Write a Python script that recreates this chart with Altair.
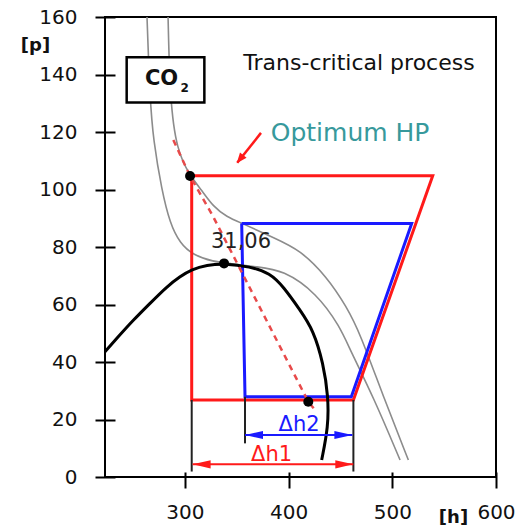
import altair as alt
import pandas as pd

# ---------------- data ----------------
dome_h = [223.0, 234.3, 250.3, 266.4, 282.5, 295.3, 306.6, 321.1, 337.8, 362.8, 382.1, 395.0, 411.0, 423.9, 433.5, 438.3, 438.3, 431.9]
dome_p = [43.6, 48.2, 54.6, 60.4, 66.2, 69.7, 72.2, 73.7, 74.3, 73.2, 70.9, 66.2, 58.1, 51.1, 39.5, 27.9, 17.5, 5.9]

iso1_h = [263.5, 266.4, 269.6, 277.7, 285.7, 295.3, 308.1, 327.4, 343.5, 369.3, 394.9, 427.1, 449.6, 459.3, 481.7, 507.5]
iso1_p = [160.0, 131.1, 117.2, 99.8, 88.2, 81.3, 77.2, 74.9, 74.3, 73.1, 72.0, 63.9, 52.3, 44.2, 27.9, 5.9]

iso2_h = [283.8, 285.7, 292.1, 305.0, 316.2, 327.4, 340.4, 354.8, 386.9, 411.0, 436.8, 456.0, 468.9, 491.4, 515.5]
iso2_p = [160.0, 131.1, 113.7, 104.7, 99.8, 94.0, 90.5, 88.3, 83.0, 79.0, 69.7, 59.2, 50.0, 27.9, 5.9]

opt_h = [288.9, 305.0, 327.4, 419.0, 425.5]
opt_p = [117.2, 104.7, 90.5, 26.2, 23.3]

red_h = [306.6, 539.0, 462.5, 306.6, 306.6]
red_p = [104.8, 104.8, 26.8, 26.8, 104.8]

blue_h = [354.8, 518.7, 460.5, 358.0, 354.8]
blue_p = [88.2, 88.2, 27.9, 27.9, 88.2]

dot_h = [305.0, 337.8, 419.0]
dot_p = [104.7, 74.3, 26.2]

# delta-h guide lines
vline_h = [306.6, 358.0, 462.5]
vline_p = [26.8, 27.9, 26.8]
vline_p2 = [1.9, 11.7, 1.9]

dh2_h, dh2_h2, dh2_p = 358.0, 461.5, 14.6
dh1_h, dh1_h2, dh1_p = 307.5, 462.4, 4.4

x_ticks = [300, 400, 500, 600]
y_ticks = [0, 20, 40, 60, 80, 100, 120, 140, 160]

FONT = "DejaVu Sans"
RED = "#ff1a1a"
BLUE = "#1a1aff"

xs = alt.Scale(domain=[223, 600], nice=False, zero=False)
ys = alt.Scale(domain=[0, 160], nice=False, zero=True)

x_axis = alt.Axis(values=x_ticks, domain=False, tickColor="black", tickWidth=2, tickSize=16,
                  offset=-5, labelFont=FONT, labelFontSize=20, labelColor="#111", labelPadding=14,
                  labelFlush=False, labelOverlap=False, labelBound=False,
                  grid=False, title="[h]", titleFont=FONT, titleFontSize=18, titleFontWeight="bold",
                  titleColor="#111", titleX=348, titleY=45, titleAlign="center", titleBaseline="middle")
y_axis = alt.Axis(values=y_ticks, domain=False, tickColor="black", tickWidth=2, tickSize=20,
                  offset=-10, labelFont=FONT, labelFontSize=20, labelColor="#111", labelPadding=18,
                  labelFlush=False, labelOverlap=False,
                  grid=False, title="[p]", titleFont=FONT, titleFontSize=18, titleFontWeight="bold",
                  titleColor="#111", titleAngle=0, titleX=-80, titleY=28, titleAlign="center",
                  titleBaseline="middle")


def X(f="h"):
    return alt.X(f"{f}:Q", scale=xs, axis=x_axis)


def Y(f="p"):
    return alt.Y(f"{f}:Q", scale=ys, axis=y_axis)


def line_df(h, p):
    return pd.DataFrame({"h": h, "p": p, "i": list(range(len(h)))})


def line(h, p, color, width, interp="linear", dash=None):
    kw = dict(color=color, strokeWidth=width, interpolate=interp)
    if dash:
        kw["strokeDash"] = dash
    return alt.Chart(line_df(h, p)).mark_line(**kw).encode(x=X(), y=Y(), order="i:Q")


iso1 = line(iso1_h, iso1_p, "#8c8c8c", 1.6, "basis")
iso2 = line(iso2_h, iso2_p, "#8c8c8c", 1.6, "basis")
dome = line(dome_h, dome_p, "black", 3, "basis")
red_cycle = line(red_h, red_p, RED, 3)
blue_cycle = line(blue_h, blue_p, BLUE, 3)
opt_line = line(opt_h, opt_p, "#e84a4a", 2.5, dash=[6, 5])

dots = alt.Chart(pd.DataFrame({"h": dot_h, "p": dot_p})).mark_point(
    filled=True, color="black", size=100, opacity=1).encode(x=X(), y=Y())

vlines = alt.Chart(pd.DataFrame({"h": vline_h, "p": vline_p, "p2": vline_p2})).mark_rule(
    color="#222", strokeWidth=2).encode(x=X(), y=Y(), y2="p2:Q")

arrows_df = pd.DataFrame({"h": [dh2_h, dh1_h], "h2": [dh2_h2, dh1_h2], "p": [dh2_p, dh1_p],
                          "c": ["b", "r"]})
cscale = alt.Scale(domain=["b", "r"], range=[BLUE, RED])
arrow_lines = alt.Chart(arrows_df).mark_rule(strokeWidth=2).encode(
    x=X(), x2="h2:Q", y=Y(), color=alt.Color("c:N", scale=cscale, legend=None))

LEFT_HEAD = "M0,0L2,-0.45L2,0.45Z"
RIGHT_HEAD = "M0,0L-2,-0.45L-2,0.45Z"
heads_left = alt.Chart(pd.DataFrame({"h": [dh2_h, dh1_h], "p": [dh2_p, dh1_p], "c": ["b", "r"]})).mark_point(
    shape=LEFT_HEAD, filled=True, size=324, opacity=1, strokeWidth=0).encode(
    x=X(), y=Y(), color=alt.Color("c:N", scale=cscale, legend=None))
heads_right = alt.Chart(pd.DataFrame({"h": [dh2_h2, dh1_h2], "p": [dh2_p, dh1_p], "c": ["b", "r"]})).mark_point(
    shape=RIGHT_HEAD, filled=True, size=324, opacity=1, strokeWidth=0).encode(
    x=X(), y=Y(), color=alt.Color("c:N", scale=cscale, legend=None))

# pointer arrow from "Optimum HP"
ptr = alt.Chart(pd.DataFrame({"h": [373.4], "h2": [350.5], "p": [119.7], "p2": [109.3]})).mark_rule(
    color=RED, strokeWidth=2.5).encode(x=X(), x2="h2:Q", y=Y(), y2="p2:Q")
ptr_head = alt.Chart(pd.DataFrame({"h": [350.0], "p": [109.1]})).mark_point(
    shape="M0,0L0.8,2L-0.8,2Z", filled=True, size=110, opacity=1, strokeWidth=0, color=RED,
    angle=218.7).encode(x=X(), y=Y())

# CO2 box
box = alt.Chart(pd.DataFrame({"h": [243.9], "h2": [318.8], "p": [130.3], "p2": [146.0]})).mark_rect(
    fill="white", stroke="black", strokeWidth=2.5).encode(x=X(), x2="h2:Q", y=Y(), y2="p2:Q")


def label(txt, h, p, size, color="#111", weight="normal", font=FONT):
    return alt.Chart(pd.DataFrame({"h": [h], "p": [p], "t": [txt]})).mark_text(
        font=font, fontSize=size, color=color, fontWeight=weight, align="center",
        baseline="middle").encode(x=X(), y=Y(), text="t:N")


texts = [
    label("Trans-critical process", 467.9, 144.0, 22),
    label("Optimum HP", 459.3, 119.7, 25, color="#37999c"),
    label("31,06", 354.1, 81.6, 21, color="#222"),
    label("Δh2", 410.1, 18.1, 21, color=BLUE),
    label("Δh1", 383.6, 7.8, 21, color=RED),
    label("CO", 277.5, 138.4, 21, weight="bold"),
    label("2", 299.8, 135.4, 12, weight="bold"),
]

chart = alt.layer(
    iso1, iso2, box, red_cycle, blue_cycle, dome, opt_line, vlines, arrow_lines,
    heads_left, heads_right, ptr, ptr_head, dots, *texts
).properties(
    width=391, height=460,
    autosize=alt.AutoSizeParams(type="none"),
    padding={"left": 105, "top": 17, "right": 20, "bottom": 50},
    background="white",
).configure_view(stroke="black", strokeWidth=2)

chart.save("out.html", embed_options={"renderer": "svg", "actions": False})
